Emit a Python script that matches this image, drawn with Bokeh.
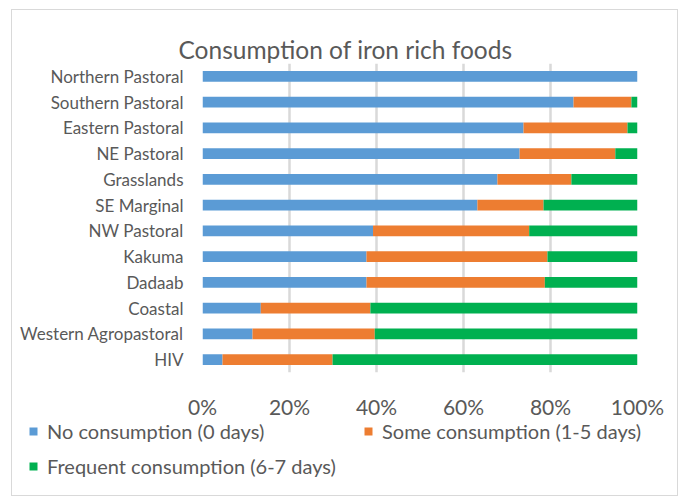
from bokeh.plotting import figure
from bokeh.models import (ColumnDataSource, FactorRange, Range1d, FixedTicker,
                          PrintfTickFormatter, Legend, LegendItem, Title)
from bokeh.embed import file_html
from bokeh.resources import INLINE

categories = ["Northern Pastoral", "Southern Pastoral", "Eastern Pastoral", "NE Pastoral",
              "Grasslands", "SE Marginal", "NW Pastoral", "Kakuma", "Dadaab", "Coastal",
              "Western Agropastoral", "HIV"]
no_consumption = [100.0, 85.3, 73.8, 72.9, 67.8, 63.2, 39.2, 37.7, 37.7, 13.4, 11.5, 4.6]
some_consumption = [0.0, 13.3, 23.9, 22.0, 17.0, 15.2, 35.9, 41.6, 41.0, 25.2, 28.1, 25.3]
frequent_consumption = [0.0, 1.4, 2.3, 5.1, 15.2, 21.6, 24.9, 20.7, 21.3, 61.4, 60.4, 70.1]
series_names = ["No consumption (0 days)", "Some consumption (1-5 days)",
                "Frequent consumption (6-7 days)"]
tick_values = [0, 20, 40, 60, 80, 100]

colors = ["#5B9BD5", "#ED7D31", "#00B050"]
TXT = "#595959"
FONT = "Lato"
BORDER = "1px solid #d9d9d9"

source = ColumnDataSource(dict(cat=categories, no=no_consumption,
                               some=some_consumption, freq=frequent_consumption))

p = figure(width=667, height=411, output_backend="svg", toolbar_location=None,
           y_range=FactorRange(factors=list(reversed(categories))),
           x_range=Range1d(0, 100),
           min_border_left=190, min_border_right=42, min_border_top=53, min_border_bottom=47)
p.styles = {"border-left": BORDER, "border-right": BORDER, "border-top": BORDER,
            "margin-left": "11px", "margin-top": "9px"}

renderers = p.hbar_stack(["no", "some", "freq"], y="cat", height=0.42, color=colors,
                         line_color=None, source=source)

p.outline_line_color = None
p.ygrid.grid_line_color = None
p.xgrid.grid_line_color = "#d9d9d9"
p.xgrid.grid_line_width = 2.5
p.xaxis.ticker = FixedTicker(ticks=tick_values)
p.xaxis.formatter = PrintfTickFormatter(format="%d%%")
for ax in (p.xaxis[0], p.yaxis[0]):
    ax.axis_line_color = None
    ax.major_tick_line_color = None
    ax.minor_tick_line_color = None
    ax.major_tick_in = 0
    ax.major_tick_out = 0
    ax.minor_tick_out = 0
    ax.major_label_text_color = TXT
    ax.major_label_text_font = FONT
p.xaxis.major_label_text_font_size = "21px"
p.xaxis.major_label_standoff = 21
p.yaxis.major_label_text_font_size = "17px"
p.yaxis.major_label_standoff = 19

title = Title(text="Consumption of iron rich foods", align="left", offset=-24,
              text_font=FONT, text_font_size="24.5px", text_font_style="normal",
              text_color=TXT, standoff=0)
p.add_layout(title, "above")

# legend panel (separate root, frame covers its whole canvas)
lf = figure(width=667, height=76, output_backend="svg", toolbar_location=None,
            x_range=Range1d(0, 1), y_range=Range1d(0, 1),
            min_border_left=0, min_border_right=0, min_border_top=0, min_border_bottom=0)
lf.styles = {"border-left": BORDER, "border-right": BORDER, "border-bottom": BORDER,
             "margin-left": "11px"}
lf.axis.visible = False
lf.grid.grid_line_color = None
lf.outline_line_color = None
keys = [lf.hbar(y=[5], left=[4], right=[5], height=0.5, color=c, line_color=None)
        for c in colors]

def make_legend(items, loc):
    return Legend(items=items, location=loc, orientation="horizontal",
                  padding=0, margin=0, spacing=0, glyph_width=10, glyph_height=10,
                  label_standoff=9, label_width=316, label_text_font=FONT,
                  label_text_font_size="20px", label_text_color=TXT,
                  border_line_color=None, background_fill_alpha=0)

leg1 = make_legend([LegendItem(label=series_names[0], renderers=[keys[0]]),
                    LegendItem(label=series_names[1], renderers=[keys[1]])], (16, 53))
leg2 = make_legend([LegendItem(label=series_names[2], renderers=[keys[2]])], (16, 18))
lf.add_layout(leg1, "center")
lf.add_layout(leg2, "center")

open("out.html", "w").write(file_html([p, lf], INLINE))
